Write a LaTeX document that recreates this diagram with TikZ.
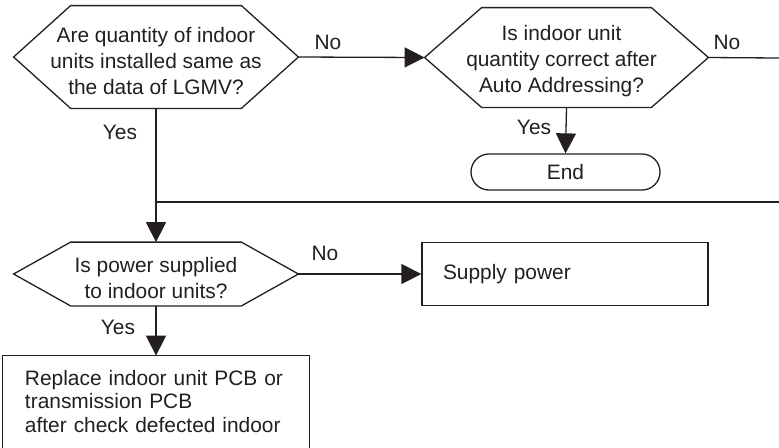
\documentclass[tikz,border=0pt]{standalone}
\usepackage{fontspec}
\setmainfont{Liberation Sans}
\usetikzlibrary{arrows.meta,shapes.misc}
\definecolor{ink}{RGB}{35,31,32}
\newcommand\drawhex[1]{\draw[ln] (#1.west) -- ([xshift=28.5pt]#1.north west) -- ([xshift=-28.5pt]#1.north east) -- (#1.east) -- ([xshift=-28.5pt]#1.south east) -- ([xshift=28.5pt]#1.south west) -- cycle;}
\newcommand\tstrut{\rule{0pt}{11.5pt}}
\newcommand\rpad{\rule{5pt}{0pt}}
\begin{document}
\begin{tikzpicture}[x=0.5pt,y=-0.5pt,
  ln/.style={line width=0.65pt, draw=ink},
  arr/.style={ln, -{Triangle[length=10pt,width=10pt]}},
  txt/.style={font=\fontsize{10.45pt}{13pt}\selectfont, text=ink, align=center, inner sep=0pt},
  hexshape/.style={txt, minimum width=142pt},
  boxtxt/.style={font=\fontsize{10.45pt}{11.7pt}\selectfont, text=ink, align=left},
  lbl/.style={font=\fontsize{10.45pt}{13pt}\selectfont, text=ink, inner sep=0pt}]
\useasboundingbox (0,0) rectangle (779,447);

% decisions
\node[hexshape, minimum height=51pt] (hexA) at (156,57) {\tstrut Are quantity of indoor\\units installed same as\\the data of LGMV?};
\drawhex{hexA}
\node[hexshape, minimum width=141.5pt, minimum height=49.5pt] (hexB) at (566.5,57.5) {\tstrut Is indoor unit\rpad\\quantity correct after\rpad\\Auto Addressing?\rpad};
\drawhex{hexB}
\node[hexshape, minimum height=31.5pt] (hexC) at (156,274) {\tstrut Is power supplied\\to indoor units?};
\drawhex{hexC}

% terminal and process boxes
\node[ln, draw, rounded rectangle, txt, minimum width=94.5pt, minimum height=18pt] (endn) at (565.5,172) {End};
\node[ln, draw, rectangle, boxtxt, text width=122pt, inner xsep=10.5pt, inner ysep=0pt, minimum height=31.5pt] (sup) at (565,274) {Supply power};
\node[boxtxt, rectangle, text width=131pt, inner xsep=11pt, inner ysep=0pt, minimum height=45.5pt] (fix) at (156,401.5) {Replace indoor unit PCB or\\transmission PCB\\after check defected indoor};
\draw[ln] ([yshift=-15pt]fix.south west) -- (fix.north west) -- (fix.north east) -- ([yshift=-15pt]fix.south east);

% free ends and junction
\coordinate (outB) at (779,58);
\coordinate (outR) at (779,202);
\coordinate (join) at (156,202);

% connectors
\draw[arr] (hexA.east) -- (hexB.west);
\draw[ln] (hexB.east) -- (outB);
\draw[arr] (hexB.south) -- (endn.north);
\draw[arr] (hexA.south) -- (hexC.north);
\draw[ln] (outR) -- (join);
\draw[arr] (hexC.east) -- (sup.west);
\draw[arr] (hexC.south) -- (fix.north);

% labels
\node[lbl] (noA) at (328,42) {No};
\node[lbl] (noB) at (727,42) {No};
\node[lbl] (yesB) at (534,127) {Yes};
\node[lbl] (yesA) at (120,132) {Yes};
\node[lbl] (noC) at (325,253) {No};
\node[lbl] (yesC) at (118,327) {Yes};
\end{tikzpicture}
\end{document}
